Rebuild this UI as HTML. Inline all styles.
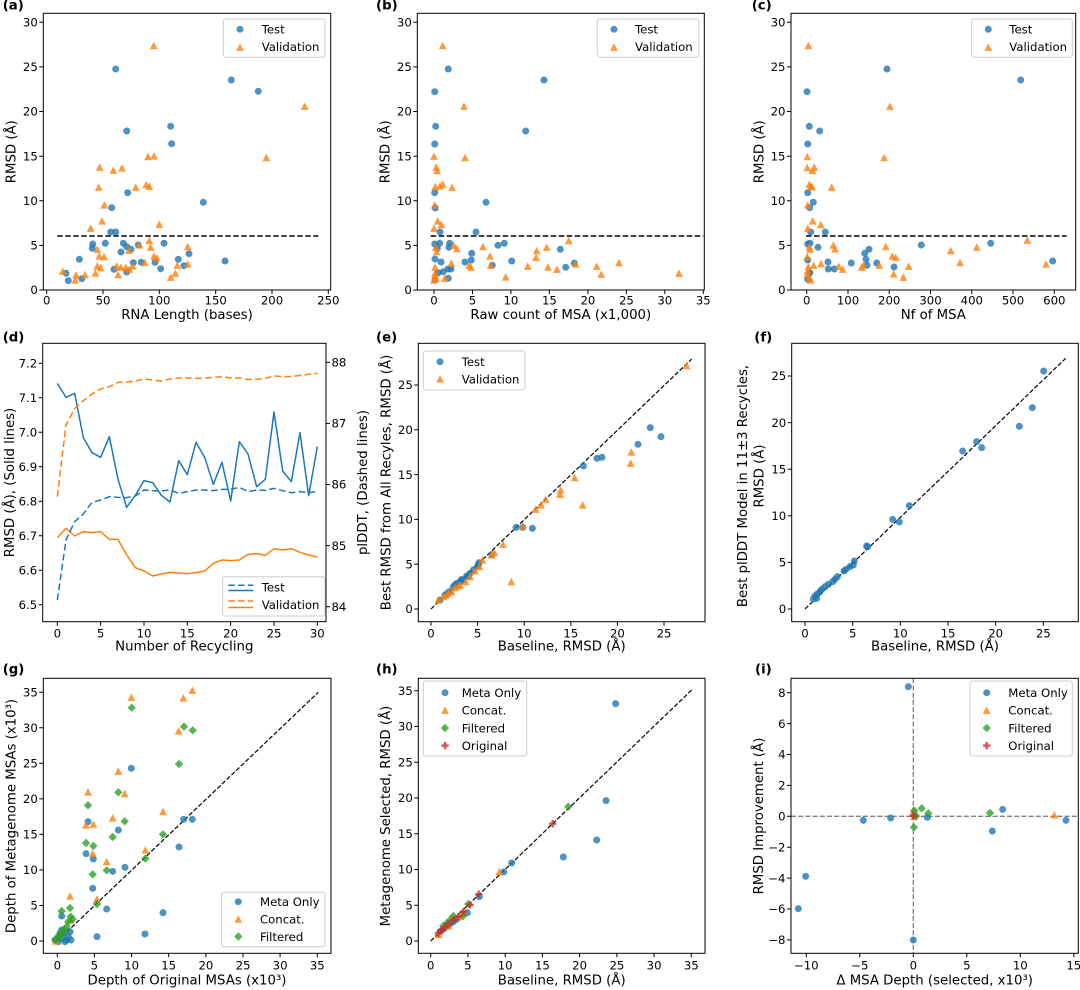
<!DOCTYPE html>
<html><head><meta charset="utf-8"><style>
html,body{margin:0;padding:0;background:#fff}
svg{display:block}
text{font-family:"DejaVu Sans","Liberation Sans",sans-serif;fill:#000}
.tk{font-size:11.7px}
.tc{font-size:11.7px;text-anchor:middle}
.te{font-size:11.7px;text-anchor:end}
.lb{font-size:13.3px;text-anchor:middle}
.lg{font-size:11.7px}
.pl{font-size:13.3px;font-weight:bold}
.ax{fill:none;stroke:#000;stroke-width:1}
.tm{fill:none;stroke:#000;stroke-width:1}
.lf{fill:#fff;fill-opacity:.8;stroke:#ccc;stroke-width:1}
.hd{stroke:#000;stroke-width:1.5;stroke-dasharray:5.5 2.5;fill:none}
.dg{stroke:#000;stroke-width:1.2;stroke-dasharray:4.5 2;fill:none}
.gd{stroke:#808080;stroke-width:1.3;stroke-dasharray:5 2.2;fill:none}
</style></head><body>
<svg width="1080" height="990" viewBox="0 0 1080 990" xmlns="http://www.w3.org/2000/svg">
<defs>
<circle id="c" r="3.5" fill="#1f77b4" fill-opacity=".8"/>
<path id="t" d="M0-3.9L-3.9 3.6H3.9Z" fill="#ff7f0e" fill-opacity=".8"/>
<path id="d" d="M0-4.2L4.2 0L0 4.2L-4.2 0Z" fill="#2ca02c" fill-opacity=".8"/>
<path id="p" d="M-1.2-3.7H1.2V-1.2H3.7V1.2H1.2V3.7H-1.2V1.2H-3.7V-1.2H-1.2Z" fill="#d62728" fill-opacity=".8"/>
<circle id="C" r="10.5" fill="#1f77b4" fill-opacity=".8"/>
<path id="T" d="M0-11.7L-11.7 10.8H11.7Z" fill="#ff7f0e" fill-opacity=".8"/>
<path id="D" d="M0-12.6L12.6 0L0 12.6L-12.6 0Z" fill="#2ca02c" fill-opacity=".8"/>
<path id="P" d="M-3.6-11H3.6V-3.6H11V3.6H3.6V11H-3.6V3.6H-11V-3.6H-3.6Z" fill="#d62728" fill-opacity=".8"/>
</defs>
<rect width="1080" height="990" fill="#fff"/>

<!-- ===================== (a) ===================== -->
<text class="pl" x="2.7" y="9.5">(a)</text>
<path class="hd" d="M57.3 236H318.3"/>
<g>
<use href="#c" x="115.7" y="69"/><use href="#c" x="231.3" y="80"/><use href="#c" x="258.3" y="91.3"/><use href="#c" x="126.7" y="131"/><use href="#c" x="170.7" y="126.3"/><use href="#c" x="171.7" y="143.7"/><use href="#c" x="127.7" y="192.7"/><use href="#c" x="203.3" y="202.3"/><use href="#c" x="111.7" y="207.7"/><use href="#c" x="110.7" y="232"/><use href="#c" x="115.7" y="232"/><use href="#c" x="92.7" y="244"/><use href="#c" x="92.3" y="248.3"/><use href="#c" x="105.3" y="243.3"/><use href="#c" x="123.3" y="243.3"/><use href="#c" x="126.7" y="246.7"/><use href="#c" x="131" y="249.3"/><use href="#c" x="121" y="252"/><use href="#c" x="138.3" y="245"/><use href="#c" x="164" y="243.3"/><use href="#c" x="189" y="253.7"/><use href="#c" x="178.3" y="259.3"/><use href="#c" x="79.3" y="259.3"/><use href="#c" x="133.3" y="262.7"/><use href="#c" x="141.3" y="262.3"/><use href="#c" x="155" y="262.3"/><use href="#c" x="184" y="265.7"/><use href="#c" x="225" y="261"/><use href="#c" x="114" y="269.3"/><use href="#c" x="126.7" y="272"/><use href="#c" x="160.7" y="268.7"/><use href="#c" x="66" y="273.3"/><use href="#c" x="68.3" y="280.7"/><use href="#c" x="81.7" y="278.7"/>
<use href="#t" x="153.7" y="45.7"/><use href="#t" x="304.7" y="106.3"/><use href="#t" x="266.3" y="157.7"/><use href="#t" x="148" y="156.7"/><use href="#t" x="154" y="156"/><use href="#t" x="99.7" y="167.3"/><use href="#t" x="113.3" y="170.3"/><use href="#t" x="122" y="168"/><use href="#t" x="98.7" y="187.3"/><use href="#t" x="146.3" y="184.7"/><use href="#t" x="149.3" y="186.3"/><use href="#t" x="135.7" y="187.3"/><use href="#t" x="104.3" y="205"/><use href="#t" x="102" y="221"/><use href="#t" x="90.7" y="228.3"/><use href="#t" x="159.3" y="224.3"/><use href="#t" x="149.3" y="240.7"/><use href="#t" x="97.3" y="249.3"/><use href="#t" x="150.7" y="247.3"/><use href="#t" x="187.7" y="246.7"/><use href="#t" x="99.3" y="256"/><use href="#t" x="104" y="256.7"/><use href="#t" x="129" y="250.3"/><use href="#t" x="139.3" y="245"/><use href="#t" x="154" y="256"/><use href="#t" x="157" y="258"/><use href="#t" x="144.7" y="262.7"/><use href="#t" x="62.7" y="271.3"/><use href="#t" x="76" y="275"/><use href="#t" x="75.3" y="280"/><use href="#t" x="85" y="274.7"/><use href="#t" x="95.3" y="273"/><use href="#t" x="97.3" y="266"/><use href="#t" x="100.7" y="267.7"/><use href="#t" x="116.7" y="266"/><use href="#t" x="118" y="274.7"/><use href="#t" x="121" y="267.3"/><use href="#t" x="126" y="267.3"/><use href="#t" x="129.3" y="269.3"/><use href="#t" x="132.7" y="266"/><use href="#t" x="170.7" y="277.3"/><use href="#t" x="175.3" y="273.3"/><use href="#t" x="177.3" y="265.3"/><use href="#t" x="187.7" y="264"/>
</g>
<rect class="ax" x="43.3" y="13.3" width="287.4" height="276.7"/>
<path class="tm" d="M39.3 290H43.3M39.3 245.4H43.3M39.3 200.8H43.3M39.3 156.2H43.3M39.3 111.5H43.3M39.3 66.9H43.3M39.3 22.3H43.3M46.7 290V294M103 290V294M159.3 290V294M215.7 290V294M272 290V294M328.3 290V294"/>
<text class="te" x="37.8" y="294.2">0</text><text class="te" x="37.8" y="249.6">5</text><text class="te" x="37.8" y="205">10</text><text class="te" x="37.8" y="160.4">15</text><text class="te" x="37.8" y="115.7">20</text><text class="te" x="37.8" y="71.1">25</text><text class="te" x="37.8" y="26.5">30</text>
<text class="tc" x="46.7" y="304.5">0</text><text class="tc" x="103" y="304.5">50</text><text class="tc" x="159.3" y="304.5">100</text><text class="tc" x="215.7" y="304.5">150</text><text class="tc" x="272" y="304.5">200</text><text class="tc" x="328.3" y="304.5">250</text>
<text class="lb" x="187" y="319">RNA Length (bases)</text>
<text class="lb" transform="translate(15.5,151.7) rotate(-90)">RMSD (Å)</text>
<rect class="lf" x="223.3" y="19" width="101.7" height="38.3" rx="2.5"/>
<use href="#c" x="240" y="29.3"/><text class="lg" x="261.7" y="33.5">Test</text>
<use href="#t" x="240" y="47.3"/><text class="lg" x="261.7" y="51">Validation</text>

<!-- ===================== (b) ===================== -->
<text class="pl" x="376" y="9.5">(b)</text>
<path class="hd" d="M430.7 236H703.3"/>
<g>
<use href="#c" x="448.3" y="69"/><use href="#c" x="544" y="80"/><use href="#c" x="434.7" y="91.7"/><use href="#c" x="435.7" y="126.3"/><use href="#c" x="525.7" y="131"/><use href="#c" x="434.7" y="144"/><use href="#c" x="434.7" y="192.7"/><use href="#c" x="435.3" y="208"/><use href="#c" x="486" y="202.3"/><use href="#c" x="440" y="232"/><use href="#c" x="476" y="232"/><use href="#c" x="434.7" y="244"/><use href="#c" x="439.7" y="243.3"/><use href="#c" x="449.7" y="243.3"/><use href="#c" x="449" y="247.3"/><use href="#c" x="437.3" y="248.3"/><use href="#c" x="471.7" y="253.3"/><use href="#c" x="498" y="245.3"/><use href="#c" x="504.3" y="243.3"/><use href="#c" x="560.3" y="249.3"/><use href="#c" x="435" y="259"/><use href="#c" x="441" y="262"/><use href="#c" x="465" y="262"/><use href="#c" x="471.3" y="260"/><use href="#c" x="511.7" y="261"/><use href="#c" x="492.3" y="265.3"/><use href="#c" x="574.3" y="263"/><use href="#c" x="565.7" y="267.3"/><use href="#c" x="448" y="269"/><use href="#c" x="451" y="269"/><use href="#c" x="443.3" y="271.7"/><use href="#c" x="448.3" y="278.3"/><use href="#c" x="435" y="280"/><use href="#c" x="438.3" y="272.7"/>
<use href="#t" x="442.7" y="45.7"/><use href="#t" x="464" y="106.3"/><use href="#t" x="465" y="157.7"/><use href="#t" x="434" y="156.3"/><use href="#t" x="436.3" y="167.3"/><use href="#t" x="437" y="170.7"/><use href="#t" x="435.3" y="186.7"/><use href="#t" x="440" y="186"/><use href="#t" x="442.7" y="184.3"/><use href="#t" x="452" y="187.3"/><use href="#t" x="434.7" y="205"/><use href="#t" x="437.7" y="221"/><use href="#t" x="441.3" y="224.7"/><use href="#t" x="434" y="228.3"/><use href="#t" x="568.7" y="240.7"/><use href="#t" x="453.7" y="245.3"/><use href="#t" x="456.7" y="248.7"/><use href="#t" x="483" y="246.7"/><use href="#t" x="436" y="247.3"/><use href="#t" x="436.7" y="251.7"/><use href="#t" x="536.7" y="250.7"/><use href="#t" x="546.7" y="247.3"/><use href="#t" x="536" y="257.3"/><use href="#t" x="490" y="256"/><use href="#t" x="451.3" y="263.3"/><use href="#t" x="469.3" y="265.3"/><use href="#t" x="471" y="267.3"/><use href="#t" x="490.7" y="265.3"/><use href="#t" x="527.7" y="266.3"/><use href="#t" x="548" y="267"/><use href="#t" x="557" y="269.3"/><use href="#t" x="575.7" y="264"/><use href="#t" x="596.7" y="266.3"/><use href="#t" x="601.3" y="274.3"/><use href="#t" x="505.7" y="277"/><use href="#t" x="619" y="262.7"/><use href="#t" x="679" y="273.3"/><use href="#t" x="435" y="267.3"/><use href="#t" x="435" y="273.3"/><use href="#t" x="435" y="276"/><use href="#t" x="436" y="278.3"/><use href="#t" x="434" y="280"/><use href="#t" x="444.7" y="278.3"/>
</g>
<rect class="ax" x="417.3" y="13.3" width="287" height="276.7"/>
<path class="tm" d="M413.3 290H417.3M413.3 245.4H417.3M413.3 200.8H417.3M413.3 156.2H417.3M413.3 111.5H417.3M413.3 66.9H417.3M413.3 22.3H417.3M434 290V294M472.5 290V294M510.9 290V294M549.4 290V294M587.9 290V294M626.4 290V294M664.8 290V294M703.3 290V294"/>
<text class="te" x="411.8" y="294.2">0</text><text class="te" x="411.8" y="249.6">5</text><text class="te" x="411.8" y="205">10</text><text class="te" x="411.8" y="160.4">15</text><text class="te" x="411.8" y="115.7">20</text><text class="te" x="411.8" y="71.1">25</text><text class="te" x="411.8" y="26.5">30</text>
<text class="tc" x="434" y="304.5">0</text><text class="tc" x="472.5" y="304.5">5</text><text class="tc" x="510.9" y="304.5">10</text><text class="tc" x="549.4" y="304.5">15</text><text class="tc" x="587.9" y="304.5">20</text><text class="tc" x="626.4" y="304.5">25</text><text class="tc" x="664.8" y="304.5">30</text><text class="tc" x="703.3" y="304.5">35</text>
<text class="lb" x="560.8" y="319">Raw count of MSA (x1,000)</text>
<text class="lb" transform="translate(389.7,151.7) rotate(-90)">RMSD (Å)</text>
<rect class="lf" x="597.3" y="19" width="101.7" height="38.3" rx="2.5"/>
<use href="#c" x="614" y="29.3"/><text class="lg" x="635" y="33.5">Test</text>
<use href="#t" x="614" y="47.3"/><text class="lg" x="635" y="51">Validation</text>

<!-- ===================== (c) ===================== -->
<text class="pl" x="751.7" y="9.5">(c)</text>
<path class="hd" d="M806 236H1066.7"/>
<g>
<use href="#c" x="887" y="69"/><use href="#c" x="1020.7" y="80"/><use href="#c" x="807" y="91.7"/><use href="#c" x="809.3" y="126.3"/><use href="#c" x="819.7" y="131"/><use href="#c" x="807.7" y="144"/><use href="#c" x="807.7" y="192.7"/><use href="#c" x="813.3" y="202.3"/><use href="#c" x="809.7" y="207.7"/><use href="#c" x="810.7" y="232"/><use href="#c" x="825.3" y="232"/><use href="#c" x="807.7" y="244"/><use href="#c" x="810" y="243.3"/><use href="#c" x="818" y="247.3"/><use href="#c" x="921.3" y="245"/><use href="#c" x="990.7" y="243.3"/><use href="#c" x="869" y="249.3"/><use href="#c" x="864.7" y="253.3"/><use href="#c" x="866" y="259.3"/><use href="#c" x="828" y="262"/><use href="#c" x="851.3" y="263"/><use href="#c" x="876.7" y="263"/><use href="#c" x="867" y="265.3"/><use href="#c" x="894" y="267"/><use href="#c" x="828.3" y="269"/><use href="#c" x="834.3" y="269"/><use href="#c" x="807.7" y="260"/><use href="#c" x="809.7" y="272.7"/><use href="#c" x="807.7" y="279.3"/><use href="#c" x="1052.7" y="261"/><use href="#c" x="809.3" y="273.3"/>
<use href="#t" x="808.3" y="45.7"/><use href="#t" x="890" y="106.3"/><use href="#t" x="884" y="157.7"/><use href="#t" x="807.3" y="156.7"/><use href="#t" x="807.3" y="167.7"/><use href="#t" x="814.3" y="167.3"/><use href="#t" x="812.3" y="170.7"/><use href="#t" x="831.7" y="187.3"/><use href="#t" x="809.3" y="184.3"/><use href="#t" x="810.7" y="186.7"/><use href="#t" x="812" y="186.7"/><use href="#t" x="807.7" y="205"/><use href="#t" x="812.7" y="221"/><use href="#t" x="820.7" y="224.7"/><use href="#t" x="807.7" y="228.3"/><use href="#t" x="1027.3" y="240.3"/><use href="#t" x="833.3" y="245"/><use href="#t" x="835" y="249"/><use href="#t" x="885.7" y="246.7"/><use href="#t" x="950.7" y="250.7"/><use href="#t" x="976.7" y="247.3"/><use href="#t" x="892.3" y="256"/><use href="#t" x="895.7" y="257.3"/><use href="#t" x="960" y="262.7"/><use href="#t" x="1046" y="264"/><use href="#t" x="821" y="263.7"/><use href="#t" x="813.7" y="265.3"/><use href="#t" x="838.7" y="266.3"/><use href="#t" x="842.7" y="269.3"/><use href="#t" x="879.3" y="265.3"/><use href="#t" x="861.7" y="267.3"/><use href="#t" x="863.3" y="265.3"/><use href="#t" x="908.7" y="266.3"/><use href="#t" x="893.7" y="274"/><use href="#t" x="903.3" y="277.3"/><use href="#t" x="809.3" y="246.7"/><use href="#t" x="810" y="249.3"/><use href="#t" x="807.3" y="256.7"/><use href="#t" x="808.3" y="266.7"/><use href="#t" x="807.7" y="270.7"/><use href="#t" x="807.3" y="274"/><use href="#t" x="809.3" y="277.3"/><use href="#t" x="810.7" y="280"/>
</g>
<rect class="ax" x="791" y="13.3" width="284.7" height="276.7"/>
<path class="tm" d="M787 290H791M787 245.4H791M787 200.8H791M787 156.2H791M787 111.5H791M787 66.9H791M787 22.3H791M806.7 290V294M848 290V294M889.2 290V294M930.5 290V294M971.8 290V294M1013 290V294M1054.3 290V294"/>
<text class="te" x="785.5" y="294.2">0</text><text class="te" x="785.5" y="249.6">5</text><text class="te" x="785.5" y="205">10</text><text class="te" x="785.5" y="160.4">15</text><text class="te" x="785.5" y="115.7">20</text><text class="te" x="785.5" y="71.1">25</text><text class="te" x="785.5" y="26.5">30</text>
<text class="tc" x="806.7" y="304.5">0</text><text class="tc" x="848" y="304.5">100</text><text class="tc" x="889.2" y="304.5">200</text><text class="tc" x="930.5" y="304.5">300</text><text class="tc" x="971.8" y="304.5">400</text><text class="tc" x="1013" y="304.5">500</text><text class="tc" x="1054.3" y="304.5">600</text>
<text class="lb" x="933.3" y="319">Nf of MSA</text>
<text class="lb" transform="translate(763.7,151.7) rotate(-90)">RMSD (Å)</text>
<rect class="lf" x="971.7" y="19" width="100.6" height="38.3" rx="2.5"/>
<use href="#c" x="988.3" y="29.3"/><text class="lg" x="1009.3" y="33.5">Test</text>
<use href="#t" x="988.3" y="47.3"/><text class="lg" x="1009.3" y="51">Validation</text>

<!-- ===================== (d) ===================== -->
<text class="pl" x="2.7" y="341.5">(d)</text>
<g transform="translate(0,310) scale(0.333333)" fill="none" stroke-width="4.5" stroke-linejoin="round">
<polyline stroke="#1f77b4" points="172,220 198,262 224,250 250,383 276,428 302,442 328,380 354,508 380,592 406,556 432,512 458,518 484,556 510,576 536,452 562,494 588,397 614,442 640,523 666,457 692,573 718,395 744,432 770,530 796,508 822,306 848,483 874,515 900,368 926,557 952,410"/>
<polyline stroke="#ff7f0e" points="172,683 198,655 224,678 250,665 276,668 302,665 328,688 354,688 380,735 406,773 432,783 458,798 484,792 510,787 536,789 562,791 588,788 614,783 640,760 666,750 692,752 718,750 744,733 770,731 796,736 822,716 848,720 874,716 900,727 926,735 952,741"/>
<polyline stroke="#1f77b4" stroke-dasharray="20 10" points="172,870 198,690 224,635 250,612 276,577 302,570 328,560 354,562 380,563 406,558 432,540 458,542 484,543 510,540 536,550 562,545 588,540 614,540 640,542 666,538 692,538 718,532 744,545 770,540 796,541 822,535 848,542 874,548 900,545 926,548 952,545"/>
<polyline stroke="#ff7f0e" stroke-dasharray="20 10" points="172,560 198,345 224,296 250,272 276,252 302,237 328,230 354,217 380,216 406,213 432,207 458,210 484,213 510,207 536,204 562,204 588,205 614,204 640,202 666,200 692,204 718,204 744,208 770,208 796,205 822,198 848,200 874,200 900,196 926,193 952,190"/>
</g>
<rect class="ax" x="42.7" y="343.3" width="283.3" height="278.4"/>
<path class="tm" d="M38.7 363.3H42.7M38.7 397.8H42.7M38.7 432.3H42.7M38.7 466.8H42.7M38.7 501.3H42.7M38.7 535.8H42.7M38.7 570.3H42.7M38.7 604.8H42.7M326 362.3H330M326 423.4H330M326 484.5H330M326 545.6H330M326 606.7H330M57.3 621.7V625.7M100.6 621.7V625.7M144 621.7V625.7M187.3 621.7V625.7M230.6 621.7V625.7M274 621.7V625.7M317.3 621.7V625.7"/>
<text class="te" x="37.2" y="367.5">7.2</text><text class="te" x="37.2" y="402">7.1</text><text class="te" x="37.2" y="436.5">7.0</text><text class="te" x="37.2" y="471">6.9</text><text class="te" x="37.2" y="505.5">6.8</text><text class="te" x="37.2" y="540">6.7</text><text class="te" x="37.2" y="574.5">6.6</text><text class="te" x="37.2" y="609">6.5</text>
<text class="tk" x="331.5" y="366.5">88</text><text class="tk" x="331.5" y="427.6">87</text><text class="tk" x="331.5" y="488.7">86</text><text class="tk" x="331.5" y="549.8">85</text><text class="tk" x="331.5" y="610.9">84</text>
<text class="tc" x="57.3" y="637.5">0</text><text class="tc" x="100.6" y="637.5">5</text><text class="tc" x="144" y="637.5">10</text><text class="tc" x="187.3" y="637.5">15</text><text class="tc" x="230.6" y="637.5">20</text><text class="tc" x="274" y="637.5">25</text><text class="tc" x="317.3" y="637.5">30</text>
<text class="lb" x="184.3" y="650.5">Number of Recycling</text>
<text class="lb" transform="translate(14,482.5) rotate(-90)">RMSD (Å), (Solid lines)</text>
<text class="lb" transform="translate(367,482.5) rotate(-90)">plDDT, (Dashed lines)</text>
<rect class="lf" x="222.7" y="576.7" width="102.3" height="39.3" rx="2.5"/>
<path d="M228.3 585.3H253.3" stroke="#1f77b4" stroke-width="1.5" stroke-dasharray="6.5 3.3"/>
<path d="M228.3 590.5H253.3" stroke="#1f77b4" stroke-width="1.5"/>
<path d="M228.3 601H253.3" stroke="#ff7f0e" stroke-width="1.5" stroke-dasharray="6.5 3.3"/>
<path d="M228.3 607.5H253.3" stroke="#ff7f0e" stroke-width="1.5"/>
<text class="lg" x="261.7" y="591.7">Test</text>
<text class="lg" x="261.7" y="609">Validation</text>

<!-- ===================== (e) ===================== -->
<text class="pl" x="376" y="341.5">(e)</text>
<path class="dg" d="M431 609L691.7 359"/>
<g transform="translate(360,310) scale(0.333333)">
<use href="#C" x="903" y="380"/><use href="#C" x="871" y="353"/><use href="#C" x="834" y="403"/><use href="#C" x="726" y="442"/><use href="#C" x="711" y="445"/><use href="#C" x="670" y="468"/><use href="#C" x="468" y="652"/><use href="#C" x="488" y="652"/><use href="#C" x="517" y="655"/><use href="#C" x="395" y="734"/><use href="#C" x="357" y="758"/><use href="#C" x="352" y="770"/><use href="#C" x="340" y="780"/><use href="#C" x="330" y="790"/><use href="#C" x="320" y="798"/><use href="#C" x="305" y="808"/><use href="#C" x="290" y="820"/><use href="#C" x="280" y="830"/><use href="#C" x="268" y="845"/><use href="#C" x="255" y="855"/><use href="#C" x="240" y="870"/><use href="#C" x="310" y="810"/><use href="#C" x="325" y="800"/><use href="#C" x="355" y="765"/><use href="#C" x="300" y="815"/><use href="#C" x="285" y="825"/><use href="#C" x="262" y="850"/>
<use href="#T" x="980" y="167"/><use href="#T" x="814" y="426"/><use href="#T" x="812" y="460"/><use href="#T" x="644" y="503"/><use href="#T" x="668" y="585"/><use href="#T" x="602" y="540"/><use href="#T" x="600" y="553"/><use href="#T" x="557" y="568"/><use href="#T" x="543" y="585"/><use href="#T" x="527" y="598"/><use href="#T" x="488" y="648"/><use href="#T" x="429" y="703"/><use href="#T" x="403" y="728"/><use href="#T" x="454" y="815"/><use href="#T" x="367" y="750"/><use href="#T" x="345" y="783"/><use href="#T" x="317" y="815"/><use href="#T" x="294" y="828"/><use href="#T" x="285" y="833"/><use href="#T" x="265" y="850"/><use href="#T" x="250" y="860"/><use href="#T" x="235" y="870"/><use href="#T" x="258" y="855"/><use href="#T" x="275" y="845"/><use href="#T" x="300" y="825"/><use href="#T" x="330" y="800"/><use href="#T" x="358" y="770"/><use href="#T" x="395" y="735"/>
</g>
<rect class="ax" x="418.3" y="343.3" width="286.7" height="278.4"/>
<path class="tm" d="M414.3 609H418.3M414.3 564.2H418.3M414.3 519.4H418.3M414.3 474.6H418.3M414.3 429.8H418.3M414.3 385H418.3M431 621.7V625.7M477.6 621.7V625.7M524.2 621.7V625.7M570.8 621.7V625.7M617.4 621.7V625.7M664 621.7V625.7"/>
<text class="te" x="412.8" y="613.2">0</text><text class="te" x="412.8" y="568.4">5</text><text class="te" x="412.8" y="523.6">10</text><text class="te" x="412.8" y="478.8">15</text><text class="te" x="412.8" y="434">20</text><text class="te" x="412.8" y="389.2">25</text>
<text class="tc" x="431" y="637.5">0</text><text class="tc" x="477.6" y="637.5">5</text><text class="tc" x="524.2" y="637.5">10</text><text class="tc" x="570.8" y="637.5">15</text><text class="tc" x="617.4" y="637.5">20</text><text class="tc" x="664" y="637.5">25</text>
<text class="lb" x="561.7" y="650.5">Baseline, RMSD (Å)</text>
<text class="lb" transform="translate(390.3,482.5) rotate(-90)">Best RMSD from All Recyles, RMSD (Å)</text>
<rect class="lf" x="423.3" y="351" width="101.7" height="39" rx="2.5"/>
<use href="#c" x="440" y="361.7"/><text class="lg" x="461.7" y="365.9">Test</text>
<use href="#t" x="440" y="379"/><text class="lg" x="461.7" y="383.3">Validation</text>

<!-- ===================== (f) ===================== -->
<text class="pl" x="754.3" y="341.5">(f)</text>
<path class="dg" d="M805 609L1065.7 358.3"/>
<g transform="translate(720,310) scale(0.333333)">
<use href="#C" x="971" y="183"/><use href="#C" x="937" y="293"/><use href="#C" x="898" y="349"/><use href="#C" x="770" y="395"/><use href="#C" x="785" y="413"/><use href="#C" x="728" y="423"/><use href="#C" x="568" y="587"/><use href="#C" x="518" y="628"/><use href="#C" x="538" y="636"/><use href="#C" x="440" y="708"/><use href="#C" x="443" y="710"/><use href="#C" x="403" y="753"/><use href="#C" x="400" y="765"/><use href="#C" x="390" y="770"/><use href="#C" x="378" y="778"/><use href="#C" x="372" y="783"/><use href="#C" x="352" y="800"/><use href="#C" x="345" y="808"/><use href="#C" x="338" y="815"/><use href="#C" x="325" y="823"/><use href="#C" x="315" y="830"/><use href="#C" x="305" y="838"/><use href="#C" x="300" y="845"/><use href="#C" x="292" y="852"/><use href="#C" x="285" y="858"/><use href="#C" x="290" y="865"/><use href="#C" x="280" y="867"/>
</g>
<rect class="ax" x="791.7" y="343.3" width="286.6" height="278.4"/>
<path class="tm" d="M787.7 609H791.7M787.7 562.4H791.7M787.7 515.8H791.7M787.7 469.2H791.7M787.7 422.6H791.7M787.7 376H791.7M805 621.7V625.7M852.7 621.7V625.7M900.3 621.7V625.7M948 621.7V625.7M995.7 621.7V625.7M1043.3 621.7V625.7"/>
<text class="te" x="786.2" y="613.2">0</text><text class="te" x="786.2" y="566.6">5</text><text class="te" x="786.2" y="520">10</text><text class="te" x="786.2" y="473.4">15</text><text class="te" x="786.2" y="426.8">20</text><text class="te" x="786.2" y="380.2">25</text>
<text class="tc" x="805" y="637.5">0</text><text class="tc" x="852.7" y="637.5">5</text><text class="tc" x="900.3" y="637.5">10</text><text class="tc" x="948" y="637.5">15</text><text class="tc" x="995.7" y="637.5">20</text><text class="tc" x="1043.3" y="637.5">25</text>
<text class="lb" x="935" y="650.5">Baseline, RMSD (Å)</text>
<text class="lb" transform="translate(747,486) rotate(-90)">Best plDDT Model in 11±3 Recycles,</text>
<text class="lb" transform="translate(763.7,476) rotate(-90)">RMSD (Å)</text>

<!-- ===================== (g) ===================== -->
<text class="pl" x="2.7" y="673.5">(g)</text>
<path class="dg" d="M57.3 941L318.3 692.3"/>
<g transform="translate(0,640) scale(0.333333)">
<use href="#C" x="394" y="385"/><use href="#C" x="355" y="570"/><use href="#C" x="264" y="545"/><use href="#C" x="258" y="641"/><use href="#C" x="280" y="657"/><use href="#C" x="338" y="694"/><use href="#C" x="375" y="682"/><use href="#C" x="278" y="745"/><use href="#C" x="551" y="538"/><use href="#C" x="577" y="538"/><use href="#C" x="537" y="621"/><use href="#C" x="489" y="818"/><use href="#C" x="320" y="807"/><use href="#C" x="435" y="882"/><use href="#C" x="291" y="890"/><use href="#C" x="185" y="828"/><use href="#C" x="185" y="870"/><use href="#C" x="200" y="900"/><use href="#C" x="213" y="900"/><use href="#C" x="210" y="875"/><use href="#C" x="192" y="880"/><use href="#C" x="165" y="900"/><use href="#C" x="175" y="905"/><use href="#C" x="195" y="905"/><use href="#C" x="205" y="890"/><use href="#C" x="185" y="895"/><use href="#C" x="180" y="880"/>
<use href="#T" x="394" y="172"/><use href="#T" x="550" y="174"/><use href="#T" x="577" y="151"/><use href="#T" x="536" y="273"/><use href="#T" x="355" y="394"/><use href="#T" x="264" y="456"/><use href="#T" x="374" y="461"/><use href="#T" x="258" y="555"/><use href="#T" x="280" y="553"/><use href="#T" x="338" y="534"/><use href="#T" x="489" y="515"/><use href="#T" x="436" y="630"/><use href="#T" x="320" y="665"/><use href="#T" x="278" y="641"/><use href="#T" x="291" y="777"/><use href="#T" x="210" y="768"/><use href="#T" x="212" y="840"/><use href="#T" x="167" y="903"/><use href="#T" x="180" y="880"/><use href="#T" x="190" y="870"/>
<use href="#D" x="395" y="203"/><use href="#D" x="552" y="260"/><use href="#D" x="578" y="271"/><use href="#D" x="537" y="372"/><use href="#D" x="355" y="457"/><use href="#D" x="264" y="496"/><use href="#D" x="374" y="544"/><use href="#D" x="338" y="591"/><use href="#D" x="258" y="609"/><use href="#D" x="280" y="618"/><use href="#D" x="489" y="583"/><use href="#D" x="436" y="656"/><use href="#D" x="320" y="691"/><use href="#D" x="278" y="703"/><use href="#D" x="291" y="792"/><use href="#D" x="185" y="813"/><use href="#D" x="210" y="804"/><use href="#D" x="212" y="830"/><use href="#D" x="218" y="838"/><use href="#D" x="193" y="868"/><use href="#D" x="185" y="880"/><use href="#D" x="175" y="888"/><use href="#D" x="168" y="900"/><use href="#D" x="180" y="890"/><use href="#D" x="200" y="860"/><use href="#D" x="205" y="845"/><use href="#D" x="190" y="875"/>
</g>
<rect class="ax" x="43.3" y="678.3" width="287.7" height="275"/>
<path class="tm" d="M39.3 941H43.3M39.3 905.5H43.3M39.3 869.9H43.3M39.3 834.4H43.3M39.3 798.9H43.3M39.3 763.3H43.3M39.3 727.8H43.3M39.3 692.3H43.3M57.3 953.3V957.3M94.4 953.3V957.3M131.6 953.3V957.3M168.7 953.3V957.3M205.9 953.3V957.3M243 953.3V957.3M280.1 953.3V957.3M317.3 953.3V957.3"/>
<text class="te" x="37.8" y="945.2">0</text><text class="te" x="37.8" y="909.7">5</text><text class="te" x="37.8" y="874.1">10</text><text class="te" x="37.8" y="838.6">15</text><text class="te" x="37.8" y="803.1">20</text><text class="te" x="37.8" y="767.5">25</text><text class="te" x="37.8" y="732">30</text><text class="te" x="37.8" y="696.5">35</text>
<text class="tc" x="57.3" y="969.5">0</text><text class="tc" x="94.4" y="969.5">5</text><text class="tc" x="131.6" y="969.5">10</text><text class="tc" x="168.7" y="969.5">15</text><text class="tc" x="205.9" y="969.5">20</text><text class="tc" x="243" y="969.5">25</text><text class="tc" x="280.1" y="969.5">30</text><text class="tc" x="317.3" y="969.5">35</text>
<text class="lb" x="187" y="984.5">Depth of Original MSAs (x10³)</text>
<text class="lb" transform="translate(15.3,816) rotate(-90)">Depth of Metagenome MSAs (x10³)</text>
<rect class="lf" x="221.7" y="892.3" width="103.3" height="54.4" rx="2.5"/>
<use href="#c" x="238.3" y="901.7"/><text class="lg" x="260" y="906">Meta Only</text>
<use href="#t" x="238.3" y="919.2"/><text class="lg" x="260" y="923.5">Concat.</text>
<use href="#d" x="238.3" y="936.5"/><text class="lg" x="260" y="940.8">Filtered</text>

<!-- ===================== (h) ===================== -->
<text class="pl" x="376" y="673.5">(h)</text>
<path class="dg" d="M430.7 941L691.7 690"/>
<g transform="translate(360,640) scale(0.333333)">
<use href="#C" x="767" y="191"/><use href="#C" x="738" y="482"/><use href="#C" x="710" y="600"/><use href="#C" x="610" y="651"/><use href="#C" x="455" y="669"/><use href="#C" x="431" y="696"/><use href="#C" x="358" y="770"/><use href="#C" x="322" y="818"/><use href="#C" x="290" y="838"/><use href="#C" x="280" y="845"/><use href="#C" x="270" y="852"/><use href="#C" x="260" y="860"/><use href="#C" x="250" y="868"/><use href="#C" x="240" y="875"/>
<use href="#T" x="418" y="695"/><use href="#T" x="236" y="884"/><use href="#T" x="300" y="830"/><use href="#T" x="310" y="820"/><use href="#T" x="265" y="858"/>
<use href="#D" x="625" y="500"/><use href="#D" x="325" y="792"/><use href="#D" x="310" y="827"/><use href="#D" x="280" y="828"/><use href="#D" x="270" y="840"/><use href="#D" x="260" y="850"/><use href="#D" x="250" y="858"/>
<use href="#P" x="578" y="551"/><use href="#P" x="356" y="763"/><use href="#P" x="330" y="795"/><use href="#P" x="310" y="815"/><use href="#P" x="295" y="830"/><use href="#P" x="280" y="840"/><use href="#P" x="265" y="852"/><use href="#P" x="255" y="862"/><use href="#P" x="245" y="870"/><use href="#P" x="235" y="880"/>
</g>
<rect class="ax" x="418.3" y="678.3" width="286.7" height="275"/>
<path class="tm" d="M414.3 941H418.3M414.3 905.2H418.3M414.3 869.5H418.3M414.3 833.7H418.3M414.3 798H418.3M414.3 762.2H418.3M414.3 726.4H418.3M414.3 690.7H418.3M430.7 953.3V957.3M467.9 953.3V957.3M505.2 953.3V957.3M542.4 953.3V957.3M579.6 953.3V957.3M616.9 953.3V957.3M654.1 953.3V957.3M691.3 953.3V957.3"/>
<text class="te" x="412.8" y="945.2">0</text><text class="te" x="412.8" y="909.4">5</text><text class="te" x="412.8" y="873.7">10</text><text class="te" x="412.8" y="837.9">15</text><text class="te" x="412.8" y="802.2">20</text><text class="te" x="412.8" y="766.4">25</text><text class="te" x="412.8" y="730.6">30</text><text class="te" x="412.8" y="694.9">35</text>
<text class="tc" x="430.7" y="969.5">0</text><text class="tc" x="467.9" y="969.5">5</text><text class="tc" x="505.2" y="969.5">10</text><text class="tc" x="542.4" y="969.5">15</text><text class="tc" x="579.6" y="969.5">20</text><text class="tc" x="616.9" y="969.5">25</text><text class="tc" x="654.1" y="969.5">30</text><text class="tc" x="691.3" y="969.5">35</text>
<text class="lb" x="561.7" y="984.5">Baseline, RMSD (Å)</text>
<text class="lb" transform="translate(390,816) rotate(-90)">Metagenome Selected, RMSD (Å)</text>
<rect class="lf" x="423.3" y="681" width="103.4" height="75" rx="2.5"/>
<use href="#c" x="445" y="692.7"/><text class="lg" x="461.7" y="697">Meta Only</text>
<use href="#t" x="445" y="710.3"/><text class="lg" x="461.7" y="714.6">Concat.</text>
<use href="#d" x="445" y="728"/><text class="lg" x="461.7" y="732.3">Filtered</text>
<use href="#p" x="445" y="745.6"/><text class="lg" x="461.7" y="749.9">Original</text>

<!-- ===================== (i) ===================== -->
<text class="pl" x="755" y="673.5">(i)</text>
<path class="gd" d="M791 816.3H1078.3M913.3 678.3V953.3"/>
<g transform="translate(720,640) scale(0.333333)">
<use href="#C" x="565" y="140"/><use href="#C" x="580" y="900"/><use href="#C" x="235" y="806"/><use href="#C" x="257" y="709"/><use href="#C" x="430" y="541"/><use href="#C" x="512" y="534"/><use href="#C" x="622" y="532"/><use href="#C" x="848" y="508"/><use href="#C" x="817" y="573"/><use href="#C" x="1038" y="541"/><use href="#C" x="583" y="527"/>
<use href="#T" x="1003" y="525"/><use href="#T" x="580" y="510"/><use href="#T" x="582" y="530"/>
<use href="#D" x="605" y="505"/><use href="#D" x="625" y="520"/><use href="#D" x="583" y="512"/><use href="#D" x="582" y="562"/><use href="#D" x="810" y="519"/><use href="#D" x="588" y="528"/>
<use href="#P" x="580" y="527"/>
</g>
<rect class="ax" x="791" y="678.3" width="287.3" height="275"/>
<path class="tm" d="M787 692.7H791M787 723.6H791M787 754.5H791M787 785.4H791M787 816.3H791M787 847.2H791M787 878.1H791M787 909H791M787 939.9H791M806.3 953.3V957.3M859.8 953.3V957.3M913.3 953.3V957.3M966.8 953.3V957.3M1020.3 953.3V957.3M1073.8 953.3V957.3"/>
<text class="te" x="785.5" y="696.9">8</text><text class="te" x="785.5" y="727.8">6</text><text class="te" x="785.5" y="758.7">4</text><text class="te" x="785.5" y="789.6">2</text><text class="te" x="785.5" y="820.5">0</text><text class="te" x="785.5" y="851.4">−2</text><text class="te" x="785.5" y="882.3">−4</text><text class="te" x="785.5" y="913.2">−6</text><text class="te" x="785.5" y="944.1">−8</text>
<text class="tc" x="806.3" y="969.5">−10</text><text class="tc" x="859.8" y="969.5">−5</text><text class="tc" x="913.3" y="969.5">0</text><text class="tc" x="966.8" y="969.5">5</text><text class="tc" x="1020.3" y="969.5">10</text><text class="tc" x="1073.8" y="969.5">15</text>
<text class="lb" x="934.7" y="984.5">Δ MSA Depth (selected, x10³)</text>
<text class="lb" transform="translate(763,816) rotate(-90)">RMSD Improvement (Å)</text>
<rect class="lf" x="970" y="681" width="102.3" height="75" rx="2.5"/>
<use href="#c" x="986.7" y="692.7"/><text class="lg" x="1008.3" y="697">Meta Only</text>
<use href="#t" x="986.7" y="710.3"/><text class="lg" x="1008.3" y="714.6">Concat.</text>
<use href="#d" x="986.7" y="728"/><text class="lg" x="1008.3" y="732.3">Filtered</text>
<use href="#p" x="986.7" y="745.6"/><text class="lg" x="1008.3" y="749.9">Original</text>
</svg>
</body></html>
